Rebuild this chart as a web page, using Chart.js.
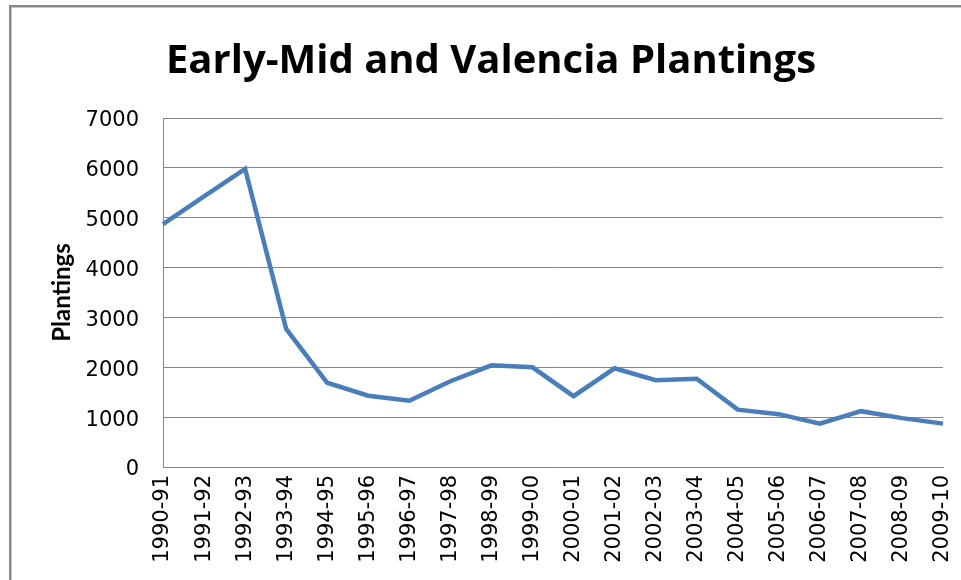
<!DOCTYPE html>
<html>
<head>
<meta charset="utf-8">
<script src="https://cdn.jsdelivr.net/npm/chart.js@4"></script>
<style>
html,body{margin:0;padding:0;background:#fff;overflow:hidden;}
#wrap{position:absolute;left:0;top:0;width:961px;height:580px;}
</style>
</head>
<body>
<div id="wrap"><canvas id="c" width="961" height="580"></canvas></div>
<script>
const seasons = ["1990-91","1991-92","1992-93","1993-94","1994-95","1995-96","1996-97","1997-98","1998-99","1999-00","2000-01","2001-02","2002-03","2003-04","2004-05","2005-06","2006-07","2007-08","2008-09","2009-10"];
const plantings = [4870,5430,5980,2770,1690,1430,1330,1720,2040,2000,1420,1980,1740,1770,1150,1060,870,1120,980,870];
const yTicks = [0,1000,2000,3000,4000,5000,6000,7000];
const chartTitle = "Early-Mid and Valencia Plantings";
const yTitle = "Plantings";

const frame = {
  id: 'frame',
  beforeDraw(chart) {
    const ctx = chart.ctx;
    ctx.save();
    ctx.fillStyle = '#fff';
    ctx.fillRect(0,0,chart.width,chart.height);
    ctx.fillStyle = '#8a8a8a';
    ctx.fillRect(9,5,chart.width,2.5);
    ctx.fillRect(9,5,2.5,chart.height);
    ctx.restore();
  }
};

new Chart(document.getElementById('c'), {
  type: 'line',
  data: {
    labels: seasons,
    datasets: [{
      data: plantings,
      borderColor: '#4a7ebb',
      borderWidth: 4.5,
      pointRadius: 0,
      tension: 0,
      fill: false,
      borderJoinStyle: 'miter'
    }]
  },
  options: {
    responsive: false,
    animation: false,
    layout: { padding: { left: 39, right: 18, top: 8, bottom: 0 } },
    plugins: {
      legend: { display: false },
      tooltip: { enabled: false },
      title: {
        display: true,
        text: chartTitle,
        color: '#000',
        font: { family: 'Open Sans', size: 40, weight: 'bold' },
        padding: { top: 29.5, bottom: 32.5 }
      }
    },
    scales: {
      x: {
        offset: false,
        grid: { display: false, drawTicks: false },
        border: { display: true, color: '#878787', width: 1 },
        ticks: {
          color: '#000',
          font: { family: 'DejaVu Sans', size: 21 },
          minRotation: 90,
          maxRotation: 90,
          autoSkip: false,
          padding: 8
        },
        afterFit(scale) {
          scale.height = 113;
          scale.paddingLeft = 0;
          scale.paddingRight = 0;
        }
      },
      y: {
        min: 0,
        max: 7000,
        afterBuildTicks(scale) { scale.ticks = yTicks.map(v => ({ value: v })); },
        grid: { color: '#878787', lineWidth: 1, drawTicks: false },
        border: { display: true, color: '#878787', width: 1 },
        ticks: {
          color: '#000',
          font: { family: 'DejaVu Sans', size: 21 },
          padding: 24,
          labelOffset: 3,
          callback: (v) => String(v)
        },
        title: {
          display: true,
          text: yTitle,
          color: '#000',
          font: { family: 'Lato', size: 24, weight: 'bold' },
          padding: { top: 9, bottom: 0 }
        },
        afterFit(scale) { scale.width = 124; }
      }
    }
  },
  plugins: [frame]
});
</script>
</body>
</html>
